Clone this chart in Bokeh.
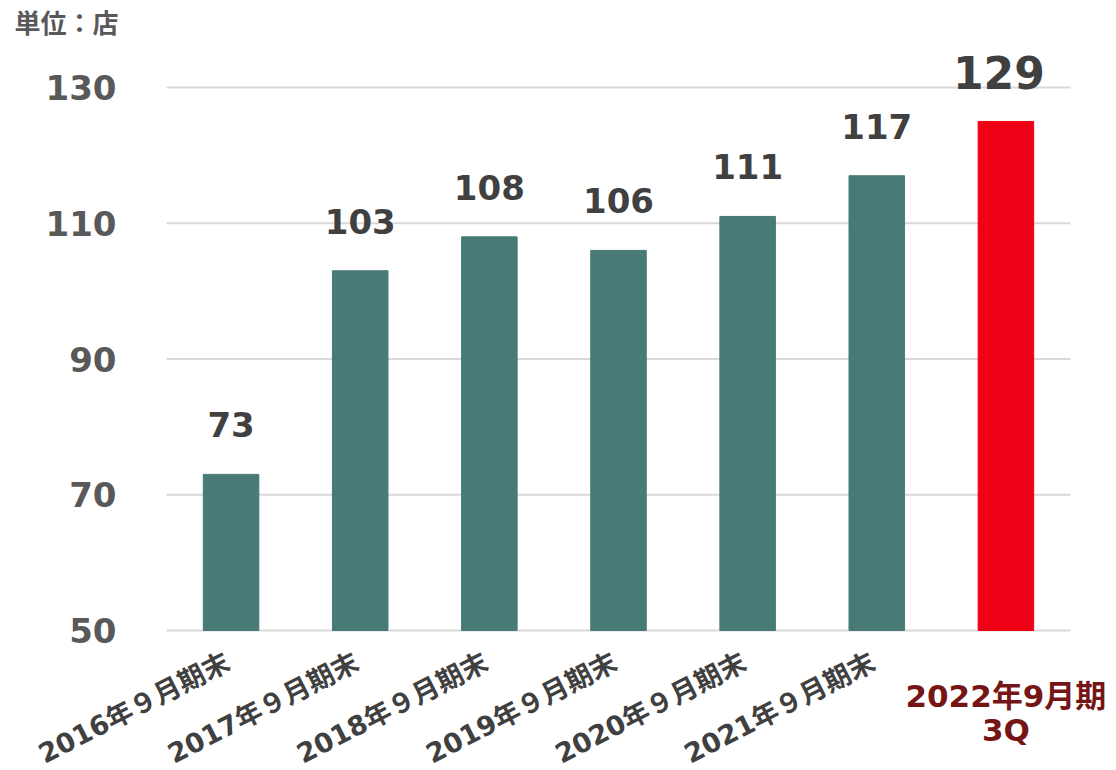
import math
from bokeh.plotting import figure
from bokeh.models import ColumnDataSource, LabelSet, Label, FixedTicker, Range1d
from bokeh.core.properties import value
from bokeh.embed import file_html
from bokeh.resources import INLINE

categories = ["2016年９月期末", "2017年９月期末", "2018年９月期末", "2019年９月期末",
              "2020年９月期末", "2021年９月期末", "2022年9月期\n3Q"]
values = [73, 103, 108, 106, 111, 117, 125]
value_labels = ["73", "103", "108", "106", "111", "117", "129"]
y_ticks = [50, 70, 90, 110, 130]
unit_label = "単位：店"

n = len(categories)
xs = [i + 0.5 for i in range(n)]          # category slot centres
BASE = y_ticks[0]

bar_colors = ["#487a76"] * (n - 1) + ["#ee0015"]
label_sizes = ["34px"] * (n - 1) + ["44px"]
label_yoff = [37] * (n - 1) + [32]
label_xoff = [0] * (n - 1) + [-7]

NUM_FONT = "DejaVu Sans, sans-serif"
MIX_FONT = "DejaVu Sans, Noto Sans CJK JP, sans-serif"
JP_FONT = "Noto Sans CJK JP, sans-serif"

src = ColumnDataSource(dict(x=xs, val=values, txt=value_labels, color=bar_colors,
                            size=label_sizes, yoff=label_yoff, xoff=label_xoff))

p = figure(x_range=Range1d(-1.2854, 7.3563), y_range=Range1d(29.374, 142.818),
           width=1116, height=770, min_border=0,
           output_backend="svg", toolbar_location=None)
p.outline_line_color = None
p.background_fill_color = "white"
p.border_fill_color = "white"
p.grid.visible = False
p.xaxis.visible = False

# horizontal grid lines spanning the category slots
p.segment(x0=0, x1=n, y0=y_ticks, y1=y_ticks, line_color="#d9d9d9", line_width=2)

p.vbar(x="x", top="val", bottom=BASE, width=0.43, color="color", source=src)

# y axis placed at left edge of first category slot
p.yaxis.fixed_location = 0
p.yaxis.ticker = FixedTicker(ticks=y_ticks)
p.yaxis.axis_line_color = None
p.yaxis.major_tick_line_color = None
p.yaxis.minor_tick_line_color = None
p.yaxis.major_label_standoff = 44
p.yaxis.major_label_text_font = NUM_FONT
p.yaxis.major_label_text_font_style = "bold"
p.yaxis.major_label_text_font_size = "34px"
p.yaxis.major_label_text_color = "#595959"

# value labels
labels = LabelSet(x="x", y="val", text="txt", source=src, y_offset="yoff", x_offset="xoff",
                  text_align="center", text_baseline="alphabetic",
                  text_font=value(NUM_FONT), text_font_style="bold",
                  text_font_size="size", text_color="#404040")
p.add_layout(labels)

# rotated category labels
cat_src = ColumnDataSource(dict(x=xs[:-1], y=[BASE] * (n - 1), t=categories[:-1]))
cat_labels = LabelSet(x="x", y="y", text="t", source=cat_src, y_offset=-38, x_offset=1,
                      angle=math.radians(27), text_align="right", text_baseline="alphabetic",
                      text_font=value(MIX_FONT), text_font_style="bold",
                      text_font_size="27px", text_color="#404040")
p.add_layout(cat_labels)

# last category label (two horizontal lines)
last_lines = categories[-1].split("\n")
last_src = ColumnDataSource(dict(x=[xs[-1]] * len(last_lines), y=[BASE] * len(last_lines),
                                 t=last_lines, yoff=[-76, -110]))
last_label = LabelSet(x="x", y="y", text="t", source=last_src, y_offset="yoff",
                      text_align="center", text_baseline="alphabetic",
                      text_font=value(MIX_FONT), text_font_style="bold",
                      text_font_size="31px", text_color="#761515")
p.add_layout(last_label)

unit = Label(x=14, y=749, x_units="screen", y_units="screen", text=unit_label,
             text_baseline="alphabetic", text_align="left", text_font=JP_FONT,
             text_font_style="bold", text_font_size="26px", text_color="#595959")
p.add_layout(unit)

open("out.html", "w").write(file_html(p, INLINE))
